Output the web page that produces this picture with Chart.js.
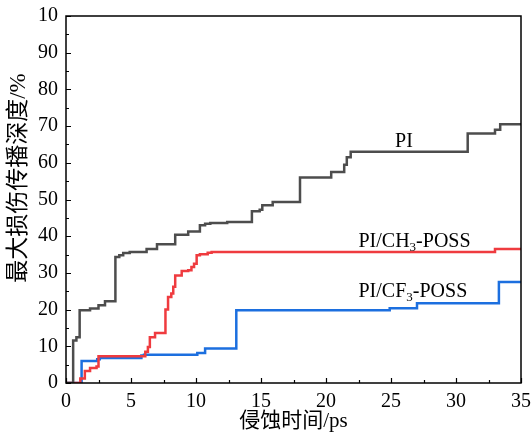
<!DOCTYPE html>
<html>
<head>
<meta charset="utf-8">
<script src="https://cdn.jsdelivr.net/npm/chart.js@4/dist/chart.umd.min.js"></script>
<style>
    html, body { margin: 0; padding: 0; background: #fff; }
    #wrap { width: 531px; height: 434px; }
</style>
</head>
<body>
<div id="wrap"><canvas id="depthChart" width="531" height="434"></canvas></div>
<script>
// 侵蚀时间 (ps) / 最大损伤传播深度 (%)
var piTime = [0, 0.5, 0.55, 0.8, 1.05, 1.85, 2.5, 3.0, 3.8, 4.1, 4.4, 4.9, 6.2, 7.0, 8.4, 9.4, 10.3, 10.7, 11.1, 12.4, 14.3, 14.9, 15.1, 15.9, 18.0, 20.4, 21.4, 21.6, 21.9, 30.9, 33.0, 33.4, 35];
var piDepth = [0, 0, 11.6, 12.5, 19.8, 20.3, 21.2, 22.3, 34.3, 34.8, 35.4, 35.7, 36.5, 37.8, 40.4, 41.3, 43.0, 43.4, 43.6, 43.9, 46.8, 47.2, 48.4, 49.3, 56.0, 57.5, 59.5, 61.5, 63.0, 68.0, 69.0, 70.5, 70.5];

var ch3Time = [0, 1.0, 1.1, 1.45, 1.85, 2.35, 2.5, 6.1, 6.3, 6.45, 6.85, 7.65, 7.85, 8.1, 8.25, 8.4, 8.9, 9.4, 9.65, 9.85, 10.05, 10.3, 10.9, 11.2, 33.0, 35];
var ch3Depth = [0, 0, 1.2, 3.3, 4.1, 4.5, 7.3, 8.5, 9.8, 12.5, 13.6, 20.0, 23.4, 24.4, 26.2, 29.3, 30.5, 30.7, 31.6, 32.5, 34.8, 35.1, 35.5, 35.7, 36.5, 36.5];

var cf3Time = [0, 1.0, 1.2, 2.4, 2.6, 5.8, 6.0, 10.1, 10.7, 13.1, 24.9, 27.0, 33.3, 35];
var cf3Depth = [0, 0, 6.0, 6.5, 6.8, 7.5, 7.7, 8.2, 9.4, 19.8, 20.4, 21.7, 27.5, 27.5];

var seriesNames = ['PI', 'PI/CH3-POSS', 'PI/CF3-POSS'];
var seriesColors = ['#4d4d4d', '#ef3b3f', '#1c6fdf'];

var yTickLabels = ['0', '10', '20', '30', '40', '50', '60', '70', '80', '90', '10'];

// label anchors in data units [x, y]
var labelPos = [[26.0, 65.6], [22.5, 38.6], [22.5, 25.0]];

var serif = "'Liberation Serif', 'Times New Roman', serif";
var cjk = "'Liberation Serif', 'Noto Sans CJK SC', serif";

function toPoints(xs, ys) {
    var pts = [];
    for (var i = 0; i < xs.length; i++) {
        pts.push({ x: xs[i], y: ys[i] });
    }
    return pts;
}

function makeSet(name, xs, ys, color) {
    return {
        label: name,
        data: toPoints(xs, ys),
        borderColor: color,
        backgroundColor: color,
        borderWidth: 2.5,
        pointRadius: 0,
        stepped: true,
        fill: false
    };
}

// frame, inward ticks, y title, series labels
var decoPlugin = {
    id: 'deco',
    afterDraw: function (chart) {
        var ctx = chart.ctx;
        var a = chart.chartArea;
        var xs = chart.scales.x;
        var ys = chart.scales.y;
        var v, p, len;

        ctx.save();
        ctx.strokeStyle = '#000';
        ctx.lineWidth = 1.5;
        ctx.strokeRect(a.left, a.top, a.right - a.left, a.bottom - a.top);

        ctx.lineWidth = 1.2;
        ctx.beginPath();
        for (v = 0; v <= 35; v += 2.5) {
            p = Math.round(xs.getPixelForValue(v)) + 0.5;
            len = (v % 5 === 0) ? 5 : 3;
            ctx.moveTo(p, a.bottom);
            ctx.lineTo(p, a.bottom - len);
        }
        for (v = 0; v <= 100; v += 5) {
            p = Math.round(ys.getPixelForValue(v)) + 0.5;
            len = (v % 10 === 0) ? 5 : 3;
            ctx.moveTo(a.left, p);
            ctx.lineTo(a.left + len, p);
        }
        ctx.stroke();

        // y title, rotated
        ctx.fillStyle = '#000';
        ctx.font = '23px ' + cjk;
        ctx.textAlign = 'center';
        ctx.textBaseline = 'middle';
        ctx.translate(19, 178);
        ctx.rotate(-Math.PI / 2);
        ctx.fillText('最大损伤传播深度/%', 0, 0);
        ctx.restore();

        // series labels with subscript 3
        ctx.save();
        ctx.fillStyle = '#000';
        ctx.textBaseline = 'middle';
        ctx.textAlign = 'left';
        for (var i = 0; i < seriesNames.length; i++) {
            var px = xs.getPixelForValue(labelPos[i][0]);
            var py = ys.getPixelForValue(labelPos[i][1]);
            var parts = seriesNames[i].split('3');
            if (i === 0) {
                ctx.font = '20px ' + serif;
                ctx.textAlign = 'center';
                ctx.fillText(parts[0], px, py);
                ctx.textAlign = 'left';
                continue;
            }
            ctx.font = '20px ' + serif;
            ctx.fillText(parts[0], px, py);
            px += ctx.measureText(parts[0]).width;
            ctx.font = '13px ' + serif;
            ctx.fillText('3', px, py + 6);
            px += ctx.measureText('3').width;
            ctx.font = '20px ' + serif;
            ctx.fillText(parts[1], px, py);
        }
        ctx.restore();
    }
};

var chart = new Chart(document.getElementById('depthChart').getContext('2d'), {
    type: 'line',
    data: {
        datasets: [
            makeSet(seriesNames[0], piTime, piDepth, seriesColors[0]),
            makeSet(seriesNames[1], ch3Time, ch3Depth, seriesColors[1]),
            makeSet(seriesNames[2], cf3Time, cf3Depth, seriesColors[2])
        ]
    },
    options: {
        responsive: false,
        animation: false,
        layout: { padding: { top: 16, right: 10, left: 0, bottom: 0 } },
        plugins: {
            legend: { display: false },
            tooltip: { enabled: false }
        },
        scales: {
            x: {
                type: 'linear',
                min: 0,
                max: 35,
                afterFit: function (s) {
                    s.height = 51;
                    s.paddingLeft = 0;
                    s.paddingRight = 0;
                },
                grid: { display: false, drawTicks: false },
                border: { display: false },
                ticks: {
                    stepSize: 5,
                    padding: 7,
                    color: '#000',
                    font: { family: serif, size: 20 },
                    maxRotation: 0
                },
                title: {
                    display: true,
                    text: '侵蚀时间/ps',
                    color: '#000',
                    font: { family: cjk, size: 21 },
                    padding: { top: -4, bottom: 0 }
                }
            },
            y: {
                min: 0,
                max: 100,
                afterFit: function (s) {
                    s.width = 66;
                    s.paddingTop = 0;
                    s.paddingBottom = 0;
                },
                grid: { display: false, drawTicks: false },
                border: { display: false },
                ticks: {
                    stepSize: 10,
                    padding: 8,
                    color: '#000',
                    font: { family: serif, size: 20 },
                    callback: function (value) {
                        return yTickLabels[Math.round(value / 10)];
                    }
                }
            }
        }
    },
    plugins: [decoPlugin]
});
</script>
</body>
</html>
